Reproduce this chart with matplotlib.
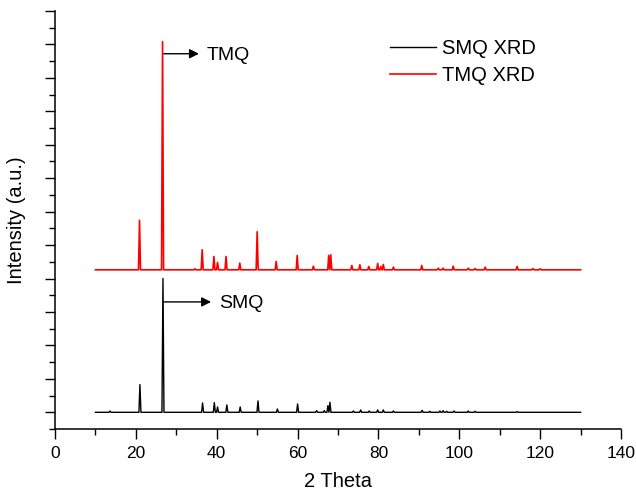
import matplotlib.pyplot as plt
from matplotlib.ticker import MultipleLocator, NullFormatter

plt.rcParams['font.family'] = ['Liberation Sans', 'DejaVu Sans']

# peak positions (2 theta) and heights (a.u.)
smq_pos = [13.6, 21.0, 26.7, 36.5, 39.4, 40.2, 42.5, 45.8, 50.2, 55.0, 60.0, 64.7, 66.6, 67.5, 68.0,
           73.8, 75.6, 77.7, 79.8, 81.2, 83.7, 90.8, 92.7, 95.2, 96.0, 96.9, 98.7, 102.2, 103.9, 114.3]
smq_int = [0.04, 0.83, 4.0, 0.28, 0.29, 0.16, 0.22, 0.16, 0.34, 0.10, 0.25, 0.05, 0.05, 0.20, 0.30,
           0.04, 0.07, 0.04, 0.07, 0.07, 0.04, 0.06, 0.03, 0.04, 0.05, 0.03, 0.04, 0.04, 0.03, 0.02]

tmq_pos = [20.9, 26.6, 34.6, 36.4, 39.3, 40.2, 42.3, 45.7, 50.0, 54.7, 59.9, 63.9, 67.7, 68.2, 73.4,
           75.4, 77.6, 79.8, 80.6, 81.2, 83.7, 90.7, 94.8, 96.0, 98.5, 102.2, 103.9, 106.4, 114.3, 118.2, 120.0]
tmq_int = [1.48, 6.82, 0.03, 0.60, 0.40, 0.22, 0.40, 0.20, 1.14, 0.25, 0.43, 0.11, 0.43, 0.45, 0.13,
           0.15, 0.10, 0.19, 0.10, 0.16, 0.08, 0.13, 0.05, 0.05, 0.11, 0.05, 0.04, 0.08, 0.10, 0.04, 0.03]

scan_range = [10, 130]
TMQ_OFFSET = 4.26
HALF_W = 0.25


def trace(pos, inten, base):
    xs, ys = [scan_range[0]], [base]
    for p, h in zip(pos, inten):
        xs += [p - HALF_W, p, p + HALF_W]
        ys += [base, base + h, base]
    xs.append(scan_range[1])
    ys.append(base)
    return xs, ys


fig = plt.figure(figsize=(6.36, 4.92), dpi=100)
ax = fig.add_axes([0.0865, 0.128, 0.890, 0.8498])

x, y = trace(smq_pos, smq_int, 0)
ax.plot(x, y, color='black', lw=1.0, label='SMQ XRD')
x, y = trace(tmq_pos, tmq_int, TMQ_OFFSET)
ax.plot(x, y, color='red', lw=1.2, label='TMQ XRD')

ax.annotate('', xy=(35.6, 10.72), xytext=(26.9, 10.72),
            arrowprops=dict(arrowstyle='-|>', color='black', lw=1, mutation_scale=14, shrinkA=0, shrinkB=0))
ax.text(37.6, 10.72, 'TMQ', fontsize=14, va='center_baseline', ha='left')
ax.annotate('', xy=(38.6, 3.3), xytext=(26.9, 3.3),
            arrowprops=dict(arrowstyle='-|>', color='black', lw=1, mutation_scale=14, shrinkA=0, shrinkB=0))
ax.text(40.6, 3.3, 'SMQ', fontsize=14, va='center_baseline', ha='left')

ax.set_xlim(0, 140)
ax.set_ylim(-0.5, 12)
ax.xaxis.set_major_locator(MultipleLocator(20))
ax.xaxis.set_minor_locator(MultipleLocator(10))
ax.yaxis.set_major_locator(MultipleLocator(1))
ax.yaxis.set_minor_locator(MultipleLocator(0.5))
ax.yaxis.set_major_formatter(NullFormatter())
ax.tick_params(which='major', length=7, width=1, labelsize=12.5, pad=5)
ax.tick_params(which='minor', length=4, width=1)
ax.spines['top'].set_visible(False)
ax.spines['right'].set_visible(False)
ax.spines['left'].set_linewidth(1.1)
ax.spines['bottom'].set_linewidth(1.1)

ax.set_xlabel('2 Theta', fontsize=14.5, labelpad=8)
ax.set_ylabel('Intensity (a.u.)', fontsize=14.5, labelpad=9)

ax.legend(loc='upper left', bbox_to_anchor=(390 / 636, 1 - 39 / 492), bbox_transform=fig.transFigure,
          frameon=False, fontsize=14.5, handlelength=2.3, handletextpad=0.3, borderpad=0,
          borderaxespad=0, labelspacing=0.4)

fig.savefig('out.png', dpi=100)
